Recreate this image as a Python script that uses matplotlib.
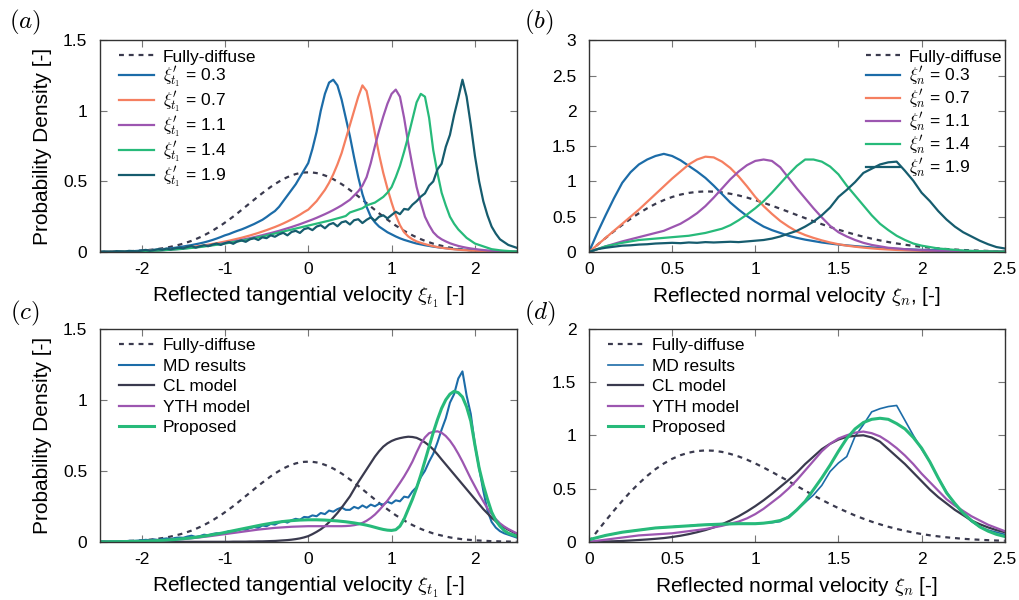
import numpy as np
import matplotlib
matplotlib.use("Agg")
import matplotlib.pyplot as plt
from matplotlib.ticker import FormatStrFormatter, MultipleLocator

plt.rcParams['font.family'] = ['Liberation Sans', 'DejaVu Sans']
plt.rcParams['mathtext.fontset'] = 'cm'

# velocity grids, values read every 0.05
xt = np.round(np.linspace(-2.5, 2.5, 101), 3)
xn = np.round(np.linspace(0.0, 2.5, 51), 3)

# ---------------- panel (a): tangential, several incident velocities
diffuse_t = [0.001, 0.001, 0.002, 0.002, 0.003, 0.004, 0.004, 0.006, 0.007, 0.009,
             0.010, 0.013, 0.015, 0.018, 0.022, 0.026, 0.031, 0.037, 0.044, 0.051,
             0.059, 0.069, 0.079, 0.091, 0.104, 0.118, 0.134, 0.150, 0.169, 0.187,
             0.208, 0.229, 0.251, 0.274, 0.298, 0.322, 0.346, 0.370, 0.394, 0.417,
             0.439, 0.461, 0.481, 0.499, 0.516, 0.530, 0.542, 0.552, 0.559, 0.563,
             0.564,
             0.563, 0.559, 0.552, 0.542, 0.530, 0.516, 0.499, 0.481, 0.461, 0.439,
             0.417, 0.394, 0.370, 0.346, 0.322, 0.298, 0.274, 0.251, 0.229, 0.208,
             0.187, 0.169, 0.150, 0.134, 0.118, 0.104, 0.091, 0.079, 0.069, 0.059,
             0.051, 0.044, 0.037, 0.031, 0.026, 0.022, 0.018, 0.015, 0.013, 0.010,
             0.009, 0.007, 0.006, 0.004, 0.004, 0.003, 0.002, 0.002, 0.001, 0.001]
t_03 = [0.000, 0.000, 0.001, 0.002, 0.002, 0.003, 0.004, 0.005, 0.006, 0.008,
        0.010, 0.011, 0.013, 0.015, 0.017, 0.020, 0.023, 0.026, 0.030, 0.034,
        0.039, 0.044, 0.049, 0.055, 0.061, 0.068, 0.076, 0.085, 0.095, 0.106,
        0.118, 0.127, 0.139, 0.150, 0.160, 0.172, 0.185, 0.198, 0.213, 0.228,
        0.248, 0.270, 0.290, 0.320, 0.360, 0.400, 0.440, 0.480, 0.530, 0.580,
        0.630, 0.730, 0.850, 1.000, 1.120, 1.200, 1.220, 1.180, 1.080, 0.950,
        0.820, 0.670, 0.530, 0.410, 0.320, 0.250, 0.210, 0.180, 0.160, 0.140,
        0.125, 0.110, 0.097, 0.086, 0.077, 0.068, 0.060, 0.054, 0.048, 0.043,
        0.038, 0.034, 0.030, 0.027, 0.024, 0.021, 0.019, 0.017, 0.015, 0.013,
        0.011, 0.010, 0.008, 0.007, 0.006, 0.005, 0.004, 0.003, 0.003, 0.002,
        0.002]
t_07 = [0.000, 0.000, 0.001, 0.001, 0.002, 0.002, 0.003, 0.004, 0.005, 0.006,
        0.007, 0.008, 0.010, 0.011, 0.013, 0.015, 0.017, 0.019, 0.022, 0.025,
        0.028, 0.031, 0.035, 0.039, 0.043, 0.047, 0.052, 0.057, 0.062, 0.068,
        0.074, 0.080, 0.087, 0.094, 0.101, 0.109, 0.117, 0.126, 0.135, 0.145,
        0.155, 0.166, 0.177, 0.189, 0.202, 0.216, 0.231, 0.247, 0.264, 0.283,
        0.300, 0.330, 0.360, 0.400, 0.440, 0.490, 0.550, 0.620, 0.700, 0.800,
        0.900, 1.000, 1.100, 1.180, 1.140, 1.000, 0.840, 0.690, 0.560, 0.450,
        0.350, 0.260, 0.190, 0.140, 0.110, 0.090, 0.075, 0.065, 0.056, 0.048,
        0.041, 0.035, 0.030, 0.026, 0.022, 0.019, 0.016, 0.014, 0.012, 0.010,
        0.009, 0.007, 0.006, 0.005, 0.004, 0.003, 0.003, 0.002, 0.002, 0.001,
        0.001]
t_11 = [0.000, 0.000, 0.001, 0.001, 0.001, 0.002, 0.002, 0.003, 0.004, 0.005,
        0.006, 0.007, 0.008, 0.010, 0.011, 0.013, 0.015, 0.017, 0.019, 0.022,
        0.025, 0.028, 0.031, 0.034, 0.038, 0.042, 0.046, 0.050, 0.054, 0.059,
        0.064, 0.069, 0.074, 0.080, 0.086, 0.092, 0.098, 0.105, 0.112, 0.119,
        0.127, 0.134, 0.142, 0.150, 0.159, 0.168, 0.177, 0.187, 0.197, 0.208,
        0.219, 0.230, 0.242, 0.255, 0.268, 0.282, 0.297, 0.313, 0.330, 0.350,
        0.370, 0.400, 0.430, 0.470, 0.530, 0.630, 0.750, 0.860, 0.960, 1.050,
        1.120, 1.150, 1.100, 0.950, 0.770, 0.610, 0.460, 0.350, 0.250, 0.190,
        0.140, 0.110, 0.090, 0.075, 0.062, 0.052, 0.043, 0.036, 0.030, 0.025,
        0.021, 0.017, 0.014, 0.011, 0.009, 0.007, 0.006, 0.005, 0.004, 0.003,
        0.002]
t_14 = [0.000, 0.000, 0.001, 0.001, 0.001, 0.002, 0.002, 0.003, 0.003, 0.004,
        0.005, 0.006, 0.007, 0.009, 0.010, 0.012, 0.014, 0.016, 0.018, 0.020,
        0.023, 0.026, 0.029, 0.032, 0.035, 0.039, 0.043, 0.047, 0.051, 0.055,
        0.060, 0.065, 0.070, 0.075, 0.080, 0.086, 0.092, 0.098, 0.104, 0.110,
        0.117, 0.124, 0.131, 0.138, 0.145, 0.152, 0.159, 0.166, 0.173, 0.180,
        0.187, 0.194, 0.201, 0.208, 0.215, 0.222, 0.230, 0.238, 0.246, 0.255,
        0.280, 0.290, 0.300, 0.310, 0.330, 0.340, 0.350, 0.370, 0.390, 0.420,
        0.460, 0.530, 0.610, 0.710, 0.820, 0.940, 1.060, 1.120, 1.100, 0.950,
        0.720, 0.560, 0.420, 0.330, 0.250, 0.200, 0.160, 0.130, 0.100, 0.080,
        0.060, 0.050, 0.040, 0.030, 0.020, 0.016, 0.012, 0.009, 0.007, 0.005,
        0.004]
t_19 = [0.000, 0.004, 0.002, 0.001, 0.006, 0.004, 0.003, 0.008, 0.006, 0.005,
        0.010, 0.015, 0.009, 0.014, 0.020, 0.016, 0.024, 0.018, 0.026, 0.030,
        0.026, 0.036, 0.042, 0.031, 0.040, 0.048, 0.041, 0.052, 0.060, 0.050,
        0.062, 0.070, 0.058, 0.075, 0.082, 0.072, 0.090, 0.098, 0.085, 0.104,
        0.098, 0.118, 0.108, 0.125, 0.136, 0.118, 0.142, 0.150, 0.135, 0.162,
        0.170, 0.155, 0.180, 0.190, 0.168, 0.195, 0.205, 0.182, 0.210, 0.218,
        0.195, 0.225, 0.232, 0.205, 0.228, 0.245, 0.222, 0.250, 0.260, 0.238,
        0.262, 0.285, 0.268, 0.305, 0.300, 0.335, 0.360, 0.392, 0.415, 0.470,
        0.500, 0.585, 0.625, 0.745, 0.830, 0.970, 1.090, 1.220, 1.100, 0.900,
        0.680, 0.500, 0.360, 0.260, 0.180, 0.130, 0.090, 0.070, 0.050, 0.040,
        0.030]

# ---------------- panel (b): normal, several incident velocities
diffuse_n = [0.000, 0.100, 0.198, 0.293, 0.384, 0.470, 0.548, 0.619, 0.682, 0.735,
             0.779, 0.813, 0.837, 0.852, 0.858, 0.855, 0.844, 0.825, 0.801, 0.771,
             0.736, 0.697, 0.656, 0.613, 0.569, 0.524, 0.480, 0.436, 0.394, 0.354,
             0.316, 0.281, 0.247, 0.217, 0.189, 0.164, 0.141, 0.121, 0.103, 0.087,
             0.073, 0.061, 0.051, 0.042, 0.035, 0.028, 0.023, 0.019, 0.015, 0.012,
             0.010]
n_03 = [0.00, 0.27, 0.52, 0.76, 0.98, 1.13, 1.24, 1.31, 1.36, 1.39,
        1.36, 1.30, 1.22, 1.14, 1.05, 0.94, 0.82, 0.70, 0.60, 0.51,
        0.43, 0.36, 0.31, 0.27, 0.23, 0.20, 0.175, 0.155, 0.135, 0.12,
        0.105, 0.094, 0.083, 0.074, 0.065, 0.058, 0.051, 0.045, 0.040, 0.035,
        0.031, 0.027, 0.024, 0.021, 0.018, 0.016, 0.014, 0.012, 0.010, 0.009,
        0.008]
n_07 = [0.00, 0.10, 0.20, 0.30, 0.40, 0.50, 0.60, 0.71, 0.82, 0.93,
        1.04, 1.14, 1.24, 1.31, 1.35, 1.34, 1.28, 1.19, 1.07, 0.93,
        0.78, 0.65, 0.54, 0.44, 0.36, 0.29, 0.24, 0.20, 0.165, 0.135,
        0.11, 0.09, 0.075, 0.062, 0.051, 0.042, 0.035, 0.029, 0.024, 0.020,
        0.017, 0.014, 0.012, 0.010, 0.008, 0.007, 0.006, 0.005, 0.004, 0.003,
        0.003]
n_11 = [0.00, 0.04, 0.08, 0.115, 0.15, 0.18, 0.21, 0.24, 0.27, 0.30,
        0.35, 0.40, 0.47, 0.55, 0.65, 0.77, 0.90, 1.03, 1.14, 1.23,
        1.29, 1.31, 1.29, 1.20, 1.05, 0.90, 0.76, 0.62, 0.49, 0.37,
        0.28, 0.22, 0.17, 0.13, 0.10, 0.08, 0.06, 0.05, 0.04, 0.032,
        0.025, 0.020, 0.016, 0.013, 0.010, 0.008, 0.006, 0.005, 0.004, 0.003,
        0.002]
n_14 = [0.00, 0.04, 0.08, 0.105, 0.13, 0.15, 0.17, 0.18, 0.19, 0.20,
        0.21, 0.22, 0.23, 0.25, 0.27, 0.30, 0.33, 0.38, 0.45, 0.53,
        0.62, 0.72, 0.84, 0.97, 1.10, 1.22, 1.31, 1.31, 1.28, 1.21,
        1.10, 0.94, 0.80, 0.66, 0.52, 0.40, 0.31, 0.23, 0.17, 0.12,
        0.09, 0.07, 0.05, 0.04, 0.03, 0.02, 0.015, 0.012, 0.009, 0.007,
        0.005]
n_19 = [0.00, 0.04, 0.06, 0.075, 0.09, 0.095, 0.105, 0.11, 0.12, 0.125,
        0.13, 0.125, 0.135, 0.13, 0.14, 0.135, 0.14, 0.145, 0.14, 0.15,
        0.16, 0.17, 0.19, 0.22, 0.26, 0.30, 0.36, 0.43, 0.52, 0.63,
        0.78, 0.88, 0.99, 1.12, 1.18, 1.24, 1.27, 1.28, 1.15, 1.01,
        0.84, 0.72, 0.58, 0.46, 0.36, 0.28, 0.22, 0.16, 0.11, 0.07,
        0.05]

# ---------------- panel (c): tangential, models vs MD
md_t = [0.000, 0.003, 0.002, 0.001, 0.005, 0.004, 0.003, 0.007, 0.006, 0.008,
        0.010, 0.014, 0.011, 0.017, 0.013, 0.020, 0.024, 0.019, 0.027, 0.030,
        0.028, 0.037, 0.043, 0.034, 0.040, 0.050, 0.046, 0.055, 0.060, 0.058,
        0.064, 0.075, 0.070, 0.082, 0.090, 0.084, 0.097, 0.104, 0.098, 0.115,
        0.110, 0.126, 0.121, 0.136, 0.145, 0.135, 0.152, 0.162, 0.155, 0.175,
        0.172, 0.186, 0.180, 0.203, 0.195, 0.220, 0.212, 0.230, 0.242, 0.225,
        0.225, 0.246, 0.235, 0.256, 0.240, 0.262, 0.250, 0.268, 0.262, 0.282,
        0.270, 0.292, 0.285, 0.318, 0.312, 0.355, 0.385, 0.455, 0.500, 0.565,
        0.620, 0.700, 0.790, 0.870, 0.980, 1.040, 1.150, 1.200, 1.030, 0.900,
        0.680, 0.520, 0.360, 0.220, 0.140, 0.100, 0.075, 0.060, 0.050, 0.040,
        0.030]
cl_t = [0.000, 0.000, 0.000, 0.000, 0.000, 0.000, 0.000, 0.000, 0.000, 0.000,
        0.000, 0.000, 0.000, 0.000, 0.000, 0.000, 0.000, 0.000, 0.000, 0.000,
        0.000, 0.000, 0.000, 0.000, 0.000, 0.000, 0.000, 0.000, 0.000, 0.000,
        0.000, 0.000, 0.001, 0.001, 0.001, 0.001, 0.002, 0.002, 0.003, 0.003,
        0.004, 0.005, 0.006, 0.008, 0.010, 0.012, 0.015, 0.019, 0.024, 0.031,
        0.040, 0.054, 0.070, 0.088, 0.110, 0.138, 0.170, 0.203, 0.240, 0.280,
        0.320, 0.370, 0.420, 0.465, 0.510, 0.555, 0.600, 0.638, 0.670, 0.693,
        0.710, 0.722, 0.730, 0.736, 0.740, 0.738, 0.732, 0.718, 0.700, 0.678,
        0.650, 0.616, 0.580, 0.545, 0.510, 0.475, 0.440, 0.405, 0.370, 0.335,
        0.300, 0.265, 0.230, 0.200, 0.170, 0.145, 0.120, 0.102, 0.085, 0.070,
        0.055]
yth_t = [0.000, 0.000, 0.000, 0.001, 0.001, 0.001, 0.002, 0.002, 0.003, 0.003,
         0.004, 0.005, 0.006, 0.007, 0.008, 0.010, 0.011, 0.013, 0.015, 0.017,
         0.019, 0.022, 0.025, 0.028, 0.031, 0.035, 0.038, 0.042, 0.046, 0.050,
         0.054, 0.058, 0.062, 0.066, 0.070, 0.074, 0.078, 0.082, 0.086, 0.089,
         0.092, 0.095, 0.098, 0.100, 0.102, 0.104, 0.106, 0.107, 0.108, 0.109,
         0.110, 0.110, 0.110, 0.110, 0.110, 0.110, 0.110, 0.110, 0.110, 0.111,
         0.113, 0.117, 0.123, 0.133, 0.148, 0.168, 0.192, 0.222, 0.255, 0.290,
         0.330, 0.372, 0.415, 0.460, 0.510, 0.565, 0.630, 0.690, 0.735, 0.765,
         0.775, 0.778, 0.768, 0.745, 0.712, 0.670, 0.620, 0.565, 0.505, 0.445,
         0.390, 0.335, 0.285, 0.235, 0.195, 0.160, 0.130, 0.108, 0.090, 0.075,
         0.060]
prop_t = [0.000, 0.000, 0.000, 0.001, 0.001, 0.001, 0.002, 0.002, 0.003, 0.003,
          0.004, 0.005, 0.006, 0.007, 0.009, 0.010, 0.012, 0.014, 0.016, 0.019,
          0.022, 0.025, 0.028, 0.032, 0.036, 0.040, 0.045, 0.050, 0.055, 0.060,
          0.066, 0.072, 0.078, 0.084, 0.090, 0.096, 0.102, 0.108, 0.114, 0.120,
          0.125, 0.130, 0.135, 0.139, 0.143, 0.146, 0.149, 0.151, 0.153, 0.154,
          0.155, 0.155, 0.155, 0.154, 0.153, 0.151, 0.149, 0.147, 0.144, 0.141,
          0.137, 0.133, 0.128, 0.123, 0.117, 0.110, 0.102, 0.094, 0.087, 0.082,
          0.080, 0.085, 0.110, 0.160, 0.230, 0.300, 0.380, 0.470, 0.570, 0.670,
          0.770, 0.860, 0.940, 1.000, 1.040, 1.060, 1.050, 1.020, 0.950, 0.850,
          0.680, 0.520, 0.400, 0.300, 0.210, 0.150, 0.110, 0.080, 0.060, 0.050,
          0.040]

# ---------------- panel (d): normal, models vs MD
md_n = [0.02, 0.04, 0.06, 0.075, 0.09, 0.10, 0.11, 0.12, 0.13, 0.135,
        0.14, 0.15, 0.15, 0.16, 0.16, 0.165, 0.17, 0.165, 0.17, 0.17,
        0.17, 0.175, 0.18, 0.19, 0.24, 0.30, 0.37, 0.44, 0.53, 0.66,
        0.74, 0.80, 0.99, 1.10, 1.22, 1.25, 1.27, 1.28, 1.14, 1.00,
        0.87, 0.75, 0.60, 0.47, 0.35, 0.26, 0.19, 0.14, 0.11, 0.09,
        0.07]
cl_n = [0.000, 0.001, 0.003, 0.005, 0.008, 0.012, 0.017, 0.022, 0.028, 0.035,
        0.045, 0.057, 0.072, 0.090, 0.110, 0.135, 0.165, 0.200, 0.240, 0.285,
        0.335, 0.390, 0.450, 0.515, 0.580, 0.650, 0.730, 0.800, 0.870, 0.920,
        0.960, 0.985, 0.995, 1.000, 0.980, 0.940, 0.870, 0.800, 0.730, 0.650,
        0.570, 0.490, 0.420, 0.360, 0.300, 0.250, 0.200, 0.165, 0.135, 0.110,
        0.090]
yth_n = [0.000, 0.010, 0.020, 0.030, 0.040, 0.050, 0.060, 0.065, 0.070, 0.075,
         0.080, 0.090, 0.100, 0.110, 0.120, 0.135, 0.150, 0.170, 0.190, 0.220,
         0.260, 0.310, 0.370, 0.430, 0.500, 0.580, 0.670, 0.760, 0.850, 0.920,
         0.970, 1.000, 1.025, 1.035, 1.020, 0.990, 0.940, 0.880, 0.810, 0.730,
         0.640, 0.560, 0.480, 0.400, 0.340, 0.290, 0.240, 0.200, 0.160, 0.130,
         0.100]
prop_n = [0.020, 0.040, 0.060, 0.075, 0.090, 0.100, 0.110, 0.120, 0.130, 0.135,
          0.140, 0.145, 0.150, 0.155, 0.160, 0.163, 0.166, 0.168, 0.170, 0.170,
          0.170, 0.175, 0.185, 0.200, 0.230, 0.300, 0.380, 0.490, 0.600, 0.720,
          0.850, 0.970, 1.060, 1.120, 1.150, 1.160, 1.150, 1.110, 1.060, 0.980,
          0.880, 0.750, 0.600, 0.460, 0.360, 0.270, 0.200, 0.140, 0.100, 0.070,
          0.050]

incident = ["0.3", "0.7", "1.1", "1.4", "1.9"]

c_blue = '#1c6ca8'
c_orange = '#f57f60'
c_purple = '#9c56b0'
c_green = '#27ba7a'
c_teal = '#165c6e'
c_dark = '#3a3a4e'
sweep_colors = [c_blue, c_orange, c_purple, c_green, c_teal]

fig = plt.figure(figsize=(10.19, 6.0), dpi=100)
ax_a = fig.add_axes([0.098, 0.580, 0.409, 0.353])
ax_b = fig.add_axes([0.578, 0.580, 0.408, 0.353])
ax_c = fig.add_axes([0.098, 0.097, 0.409, 0.355])
ax_d = fig.add_axes([0.578, 0.097, 0.408, 0.355])

dash = (0, (2.2, 2.2))
lw = 1.6

# (a)
ax_a.plot(xt, diffuse_t, color=c_dark, lw=lw, ls=dash, label='Fully-diffuse')
for v, c, s in zip(incident, sweep_colors, [t_03, t_07, t_11, t_14, t_19]):
    ax_a.plot(xt, s, color=c, lw=lw, label=r"$\xi^{\prime}_{t_1}$ = " + v)
# (b)
ax_b.plot(xn, diffuse_n, color=c_dark, lw=lw, ls=dash, label='Fully-diffuse')
for v, c, s in zip(incident, sweep_colors, [n_03, n_07, n_11, n_14, n_19]):
    ax_b.plot(xn, s, color=c, lw=lw, label=r"$\xi^{\prime}_n$ = " + v)
# (c)
ax_c.plot(xt, diffuse_t, color=c_dark, lw=lw, ls=dash, label='Fully-diffuse')
ax_c.plot(xt, md_t, color=c_blue, lw=1.5, label='MD results')
ax_c.plot(xt, cl_t, color=c_dark, lw=lw, label='CL model')
ax_c.plot(xt, yth_t, color=c_purple, lw=lw, label='YTH model')
ax_c.plot(xt, prop_t, color=c_green, lw=2.2, label='Proposed')
# (d)
ax_d.plot(xn, diffuse_n, color=c_dark, lw=lw, ls=dash, label='Fully-diffuse')
ax_d.plot(xn, md_n, color=c_blue, lw=1.2, label='MD results')
ax_d.plot(xn, cl_n, color=c_dark, lw=lw, label='CL model')
ax_d.plot(xn, yth_n, color=c_purple, lw=lw, label='YTH model')
ax_d.plot(xn, prop_n, color=c_green, lw=2.2, label='Proposed')

for ax in (ax_a, ax_c):
    ax.set_xlim(-2.5, 2.5)
    ax.xaxis.set_major_locator(MultipleLocator(1))
    ax.set_xlabel(r"Reflected tangential velocity $\xi_{t_1}$ [-]", fontsize=15, labelpad=6)
    ax.set_ylabel("Probability Density [-]", fontsize=15, labelpad=8)
for ax in (ax_b, ax_d):
    ax.set_xlim(0, 2.5)
    ax.xaxis.set_major_locator(MultipleLocator(0.5))
ax_b.set_xlabel(r"Reflected normal velocity $\xi_n$, [-]", fontsize=15, labelpad=6)
ax_d.set_xlabel(r"Reflected normal velocity $\xi_n$ [-]", fontsize=15, labelpad=6)

ax_a.set_ylim(0, 1.5)
ax_c.set_ylim(0, 1.5)
ax_b.set_ylim(0, 3)
ax_d.set_ylim(0, 2)
for ax in (ax_a, ax_b, ax_c, ax_d):
    ax.yaxis.set_major_locator(MultipleLocator(0.5))
    ax.xaxis.set_major_formatter(FormatStrFormatter('%g'))
    ax.yaxis.set_major_formatter(FormatStrFormatter('%g'))
    ax.tick_params(direction='in', top=True, right=True, length=5,
                   width=0.8, color='#777777', labelsize=12.5)
    ax.tick_params(axis='x', pad=7)
    ax.tick_params(axis='y', pad=9)
    for sp in ax.spines.values():
        sp.set_color('#333333')
        sp.set_linewidth(1.0)

leg_kw = dict(frameon=False, fontsize=12.5, handlelength=2.0,
              handletextpad=0.5, borderaxespad=0.3)
ax_a.legend(loc='upper left', bbox_to_anchor=(0.017, 1.014), labelspacing=0.0, **leg_kw)
ax_b.legend(loc='upper right', bbox_to_anchor=(1.024, 1.014), labelspacing=0.0, **leg_kw)
ax_c.legend(loc='upper left', bbox_to_anchor=(0.017, 1.014), labelspacing=0.31, **leg_kw)
ax_d.legend(loc='upper left', bbox_to_anchor=(0.017, 1.014), labelspacing=0.31, **leg_kw)

for lab, x, y in [('a', 0.0245, 0.962), ('b', 0.529, 0.962),
                  ('c', 0.0245, 0.478), ('d', 0.530, 0.478)]:
    fig.text(x, y, r"$(" + lab + ")$", fontsize=18, va='center', ha='center')

fig.savefig("out.png", dpi=100)
